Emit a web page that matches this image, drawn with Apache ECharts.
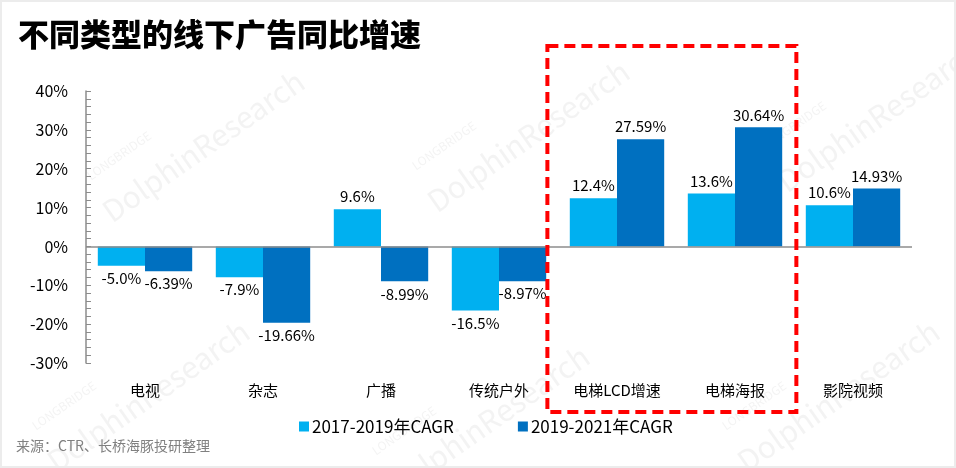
<!DOCTYPE html>
<html><head><meta charset="utf-8">
<script src="https://cdn.jsdelivr.net/npm/echarts@6/dist/echarts.min.js"></script>
<style>
html,body{margin:0;padding:0;background:#fff;}
#c{width:956px;height:468px;box-sizing:border-box;border:2px solid #ececec;}
</style></head>
<body><div id="c"></div>
<script>
const categories = ['电视','杂志','广播','传统户外','电梯LCD增速','电梯海报','影院视频'];
const series1Name = '2017-2019年CAGR';
const series2Name = '2019-2021年CAGR';
const series1 = [-5.0, -7.9, 9.6, -16.5, 12.4, 13.6, 10.6];
const series2 = [-6.39, -19.66, -8.99, -8.97, 27.59, 30.64, 14.93];
const labels1 = ['-5.0%','-7.9%','9.6%','-16.5%','12.4%','13.6%','10.6%'];
const labels2 = ['-6.39%','-19.66%','-8.99%','-8.97%','27.59%','30.64%','14.93%'];
const yTicks = {min:-30, max:40, interval:10};
const titleText = '不同类型的线下广告同比增速';
const sourceText = '来源：CTR、长桥海豚投研整理';

const FONT = '"Noto Sans CJK SC", "Noto Sans", sans-serif';
const chart = echarts.init(document.getElementById('c'));

function mkSeries(name, data, labels, color) {
  return {
    name, type:'bar', data: data.map((v,i)=>({
      value:v,
      label:{position: v>=0?'top':'bottom', formatter: labels[i]}
    })),
    barGap:'0%', barCategoryGap:'20%',
    itemStyle:{color},
    label:{show:true, color:'#000', fontSize:15, fontFamily:FONT, distance:5},
    z:3
  };
}

const wm = [];
[[95,200],[420,190],[770,170],[40,450],[380,475],[730,450]].forEach(p=>{
  wm.push({type:'text', x:p[0], y:p[1], rotation:35*Math.PI/180, silent:true, z:0,
    style:{text:'DolphinResearch', fill:'rgba(190,190,190,0.18)', font:'30px '+FONT}});
  wm.push({type:'text', x:p[0]-12, y:p[1]-30, rotation:35*Math.PI/180, silent:true, z:0,
    style:{text:'LONGBRIDGE', fill:'rgba(190,190,190,0.18)', font:'12px '+FONT}});
});
const srcText = {type:'text', left:14, top:437, style:{text:sourceText, fill:'#808080', font:'14px '+FONT}};

const option = {
  animation:false,
  title:{text:titleText, left:11, top:12, textStyle:{fontSize:31, fontWeight:900, color:'#000', fontFamily:FONT}},
  grid:{left:84, right:42, top:89, bottom:103, containLabel:false},
  legend:{
    bottom:26, left:292, itemGap:64, itemWidth:10, itemHeight:10, icon:'rect',
    textStyle:{fontSize:17, color:'#000', fontFamily:FONT, padding:[0,0,0,-2]},
    data:[series1Name, series2Name]
  },
  xAxis:{
    type:'category', data:categories,
    axisLine:{show:false, onZero:false}, axisTick:{show:false},
    axisLabel:{color:'#000', fontSize:15, fontFamily:FONT, margin:20, interval:0}
  },
  yAxis:{
    type:'value', min:yTicks.min, max:yTicks.max, interval:yTicks.interval,
    axisLine:{show:true, lineStyle:{color:'#8c8c8c', width:1.5}},
    axisTick:{show:true, inside:true, length:5, lineStyle:{color:'#8c8c8c'}},
    minorTick:{show:true, splitNumber:5, length:5, lineStyle:{color:'#8c8c8c'}},
    splitLine:{show:false},
    axisLabel:{formatter:'{value}%', color:'#000', fontSize:16, fontFamily:FONT, margin:18}
  },
  series:[
    Object.assign(mkSeries(series1Name, series1, labels1, '#00B0F0'), {
      markLine:{silent:true, symbol:'none', label:{show:false},
        lineStyle:{color:'#8c8c8c', type:'solid', width:1.5},
        data:[{yAxis:0}], z:5}
    }),
    mkSeries(series2Name, series2, labels2, '#0070C0')
  ],
  graphic: wm.concat([srcText])
};
chart.setOption(option);

// Red dashed annotation around the elevator categories
const c4 = chart.convertToPixel({xAxisIndex:0}, categories[4]);
const c5 = chart.convertToPixel({xAxisIndex:0}, categories[5]);
const band = c5 - c4;
const topY = 44, botY = 410;
chart.setOption({graphic: wm.concat([
  srcText,
  {type:'rect', shape:{x:c4-0.59*band, y:topY, width:(c5+0.52*band)-(c4-0.59*band), height:botY-topY},
   style:{fill:'none', stroke:'#FF0000', lineWidth:4, lineDash:[11,6]}, z:10}
])});
</script></body></html>
